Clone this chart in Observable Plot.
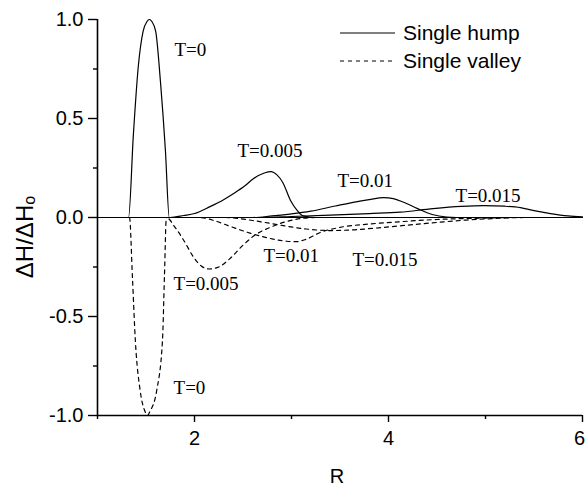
<!DOCTYPE html>
<html><head><meta charset="utf-8">
<script src="https://cdn.jsdelivr.net/npm/d3@7"></script>
<script src="https://cdn.jsdelivr.net/npm/@observablehq/plot@0.6"></script>
<style>body{margin:0;background:#fff} svg{display:block}</style>
</head><body><div id="chart"></div>
<script>
// Single hump curves (solid)
const humpT0R = [1, 1.32, 1.37, 1.42, 1.47, 1.51, 1.535, 1.56, 1.60, 1.65, 1.70, 1.74, 6];
const humpT0H = [0, 0, 0.42, 0.76, 0.94, 0.99, 1.0, 0.99, 0.94, 0.68, 0.34, 0, 0];
const humpT05R = [1, 1.75, 1.89, 2.0, 2.16, 2.3, 2.4, 2.52, 2.61, 2.72, 2.79, 2.85, 2.91, 2.99, 3.06, 3.12, 3.25, 6];
const humpT05H = [0, 0, 0.01, 0.02, 0.055, 0.09, 0.12, 0.16, 0.197, 0.225, 0.232, 0.215, 0.177, 0.086, 0.035, 0.008, 0, 0];
const humpT1R = [1, 2.6, 2.8, 3.0, 3.2, 3.45, 3.65, 3.8, 3.95, 4.05, 4.15, 4.3, 4.45, 4.6, 4.7, 6];
const humpT1H = [0, 0, 0.008, 0.018, 0.032, 0.058, 0.078, 0.09, 0.1, 0.095, 0.078, 0.045, 0.015, 0.002, 0, 0];
const humpT15R = [1, 2.7, 3.0, 3.4, 3.8, 4.12, 4.46, 4.75, 4.98, 5.2, 5.36, 5.5, 5.67, 5.85, 6];
const humpT15H = [0, 0, 0.005, 0.012, 0.02, 0.027, 0.045, 0.056, 0.06, 0.057, 0.05, 0.035, 0.02, 0.008, 0.003];
// Single valley curves (dashed)
const valleyT0R = [1, 1.33, 1.36, 1.39, 1.44, 1.49, 1.515, 1.54, 1.61, 1.67, 1.69, 1.71, 6];
const valleyT0H = [0, 0, -0.3, -0.62, -0.875, -0.98, -1, -0.98, -0.875, -0.62, -0.3, 0, 0];
const valleyT05R = [1, 1.71, 1.8, 1.89, 1.99, 2.07, 2.15, 2.25, 2.36, 2.5, 2.62, 2.78, 2.95, 3.1, 3.25, 6];
const valleyT05H = [0, 0, -0.05, -0.116, -0.2, -0.245, -0.26, -0.25, -0.21, -0.14, -0.09, -0.05, -0.02, -0.005, 0, 0];
const valleyT1R = [1, 2.05, 2.2, 2.34, 2.58, 2.78, 2.95, 3.05, 3.15, 3.3, 3.5, 3.8, 4.1, 4.5, 5.0, 5.3, 6];
const valleyT1H = [0, 0, -0.015, -0.04, -0.08, -0.106, -0.12, -0.122, -0.11, -0.075, -0.05, -0.033, -0.022, -0.01, -0.003, 0, 0];
const valleyT15R = [1, 2.3, 2.6, 2.9, 3.15, 3.4, 3.65, 3.9, 4.12, 4.5, 4.8, 5.1, 5.4, 6];
const valleyT15H = [0, 0, -0.015, -0.04, -0.058, -0.066, -0.062, -0.052, -0.042, -0.025, -0.013, -0.005, 0, 0];
// Annotations
const labelText = ["T=0", "T=0.005", "T=0.01", "T=0.015", "T=0.005", "T=0.01", "T=0.015", "T=0"];
const labelR = [1.794, 2.443, 3.474, 4.691, 1.784, 2.711, 3.629, 1.784];
const labelH = [0.848, 0.338, 0.187, 0.111, -0.333, -0.192, -0.212, -0.859];
const xTicks = [2, 4, 6];
const xMinor = [1, 3, 5];
const yTicks = [-1, -0.5, 0, 0.5, 1];
const yMinor = [-0.75, -0.25, 0.25, 0.75];

function rows(name, Rs, Hs) { return Rs.map((r, i) => ({curve: name, R: r, H: Hs[i]})); }
const humps = [
  ...rows("h0", humpT0R, humpT0H), ...rows("h05", humpT05R, humpT05H),
  ...rows("h1", humpT1R, humpT1H), ...rows("h15", humpT15R, humpT15H)];
const valleys = [
  ...rows("v0", valleyT0R, valleyT0H), ...rows("v05", valleyT05R, valleyT05H),
  ...rows("v1", valleyT1R, valleyT1H), ...rows("v15", valleyT15R, valleyT15H)];
const labels = labelText.map((t, i) => ({t, R: labelR[i], H: labelH[i]}));

const sans = "'Liberation Sans', Arial, sans-serif";
const chart = Plot.plot({
  width: 586, height: 487,
  marginLeft: 97, marginRight: 4, marginTop: 19, marginBottom: 72,
  style: {background: "#fff", fontFamily: sans, color: "#000"},
  x: {domain: [1, 6]},
  y: {domain: [-1, 1]},
  marks: [
    Plot.line(valleys, {x: "R", y: "H", z: "curve", stroke: "#000", strokeWidth: 1.2, strokeDasharray: "4,4", curve: "monotone-x"}),
    Plot.line(humps, {x: "R", y: "H", z: "curve", stroke: "#000", strokeWidth: 1.2, curve: "monotone-x"}),
    Plot.text(labels, {x: "R", y: "H", text: "t", textAnchor: "start", lineAnchor: "middle", fontFamily: "'Liberation Serif', 'Times New Roman', serif", fontSize: 19, fill: "#000"}),
    Plot.ruleX([1], {stroke: "#000", strokeWidth: 1.6}),
    Plot.ruleY([-1], {stroke: "#000", strokeWidth: 1.6}),
    Plot.axisX({ticks: xTicks, tickSize: 7, tickPadding: 8, fontSize: 20, tickFormat: d => String(d), label: null, strokeWidth: 1.4}),
    Plot.axisX({ticks: xMinor, tickSize: 4, tickFormat: () => "", label: null, strokeWidth: 1.4}),
    Plot.axisY({ticks: yTicks, tickSize: 9, tickPadding: 5, fontSize: 20, tickFormat: d => d.toFixed(1), label: null, strokeWidth: 1.4}),
    Plot.axisY({ticks: yMinor, tickSize: 4, tickFormat: () => "", label: null, strokeWidth: 1.4})
  ]
});
document.getElementById("chart").appendChild(chart);

const svg = d3.select(chart);
// keep the last x tick label inside the picture
svg.selectAll("text").filter(function() { return this.textContent === "6"; }).attr("dx", -3);

// Axis titles and legend
svg.append("text").attr("x", 337).attr("y", 476).attr("dy", "0.35em")
  .attr("text-anchor", "middle").attr("font-family", sans).attr("font-size", 20).attr("fill", "#000").text("R");
const yl = svg.append("text").attr("transform", "rotate(-90)").attr("x", -237).attr("y", 33)
  .attr("text-anchor", "middle").attr("font-family", sans).attr("font-size", 24).attr("fill", "#000");
yl.append("tspan").text("ΔH/ΔH");
yl.append("tspan").attr("font-size", 16).attr("dy", 2).text("o");

const legend = svg.append("g");
legend.append("line").attr("x1", 340).attr("x2", 395).attr("y1", 33).attr("y2", 33).attr("stroke", "#000").attr("stroke-width", 1.2);
legend.append("line").attr("x1", 340).attr("x2", 395).attr("y1", 61).attr("y2", 61).attr("stroke", "#000").attr("stroke-width", 1.2).attr("stroke-dasharray", "4,4");
legend.append("text").attr("x", 403).attr("y", 33).attr("dy", "0.35em").attr("text-anchor", "start").attr("font-family", sans).attr("font-size", 21).attr("fill", "#000").text("Single hump");
legend.append("text").attr("x", 403).attr("y", 61).attr("dy", "0.35em").attr("text-anchor", "start").attr("font-family", sans).attr("font-size", 21).attr("fill", "#000").text("Single valley");
</script></body></html>
